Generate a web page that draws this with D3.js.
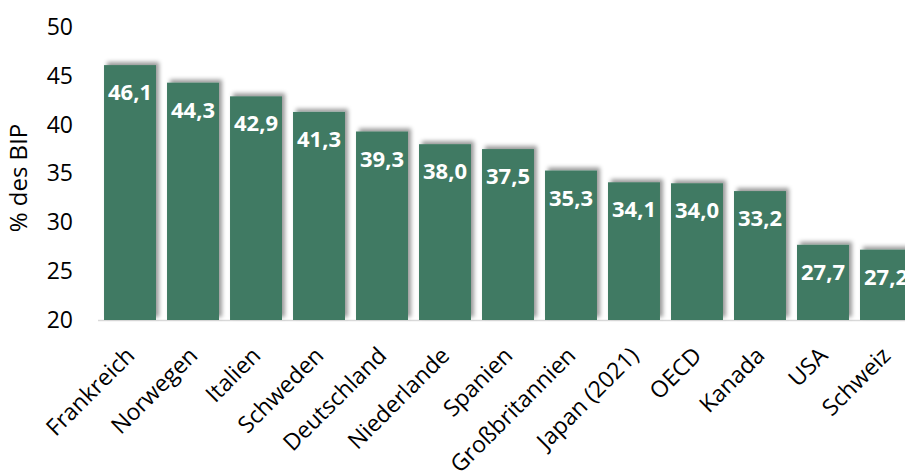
<!DOCTYPE html>
<html><head><meta charset="utf-8">
<script src="https://cdn.jsdelivr.net/npm/d3@7"></script>
<style>body{margin:0;background:#fff;overflow:hidden}svg{display:block}text{font-family:"Open Sans",sans-serif}</style>
</head><body>
<script>
const categories = ["Frankreich","Norwegen","Italien","Schweden","Deutschland","Niederlande","Spanien","Großbritannien","Japan (2021)","OECD","Kanada","USA","Schweiz"];
const values = [46.1,44.3,42.9,41.3,39.3,38.0,37.5,35.3,34.1,34.0,33.2,27.7,27.2];
const yTicks = [20,25,30,35,40,45,50];
const yTitle = "% des BIP";

const W = 905, H = 475;
const svg = d3.select("body").append("svg").attr("width", W).attr("height", H);
const defs = svg.append("defs");
const f = defs.append("filter").attr("id","sh").attr("x","-20%").attr("y","-20%").attr("width","150%").attr("height","150%");
f.append("feDropShadow").attr("dx",3).attr("dy",-3).attr("stdDeviation",2.2).attr("flood-color","#000").attr("flood-opacity",0.4);

const x = d3.scaleBand().domain(categories).range([93, 923]).paddingInner(0.175).paddingOuter(0.175);
const y = d3.scaleLinear().domain([20,50]).range([320, 27]);

// baseline
svg.append("line").attr("x1",98).attr("x2",W).attr("y1",y(20)+0.5).attr("y2",y(20)+0.5)
  .attr("stroke","#d9d9d9").attr("stroke-width",1.5);

// y axis
const ya = svg.append("g").attr("transform","translate(73,0)")
  .call(d3.axisLeft(y).tickValues(yTicks).tickSize(0).tickPadding(0).tickFormat(d3.format("d")));
ya.select(".domain").remove();
ya.selectAll("text").attr("font-size",23).attr("fill","#000").attr("font-family","'Open Sans',sans-serif");

svg.append("text").attr("transform",`translate(27,${178}) rotate(-90)`).attr("text-anchor","middle")
  .attr("font-size",24).attr("fill","#000").text(yTitle);

// bars
const data = categories.map((c,i)=>({c, v: values[i]}));
svg.append("g").selectAll("rect").data(data).join("rect")
  .attr("x", d=>x(d.c)).attr("width", x.bandwidth())
  .attr("y", d=>y(d.v)).attr("height", d=>y(20)-y(d.v))
  .attr("fill","#407A63").attr("filter","url(#sh)");

svg.append("g").selectAll("text").data(data).join("text")
  .attr("x", d=>x(d.c)+x.bandwidth()/2).attr("y", d=>y(d.v)+35)
  .attr("text-anchor","middle").attr("font-size",22).attr("font-weight","bold").attr("fill","#fff")
  .text(d=>d3.format(".1f")(d.v).replace(".",","));

// x labels
const xa = svg.append("g").attr("transform",`translate(0,${y(20)})`)
  .call(d3.axisBottom(x).tickSize(0).tickPadding(0));
xa.select(".domain").remove();
xa.selectAll("text").attr("font-size",23).attr("fill","#000").attr("font-family","'Open Sans',sans-serif")
  .attr("text-anchor","end").attr("dy",0)
  .attr("transform","translate(6,37) rotate(-45)");
</script>
</body></html>
